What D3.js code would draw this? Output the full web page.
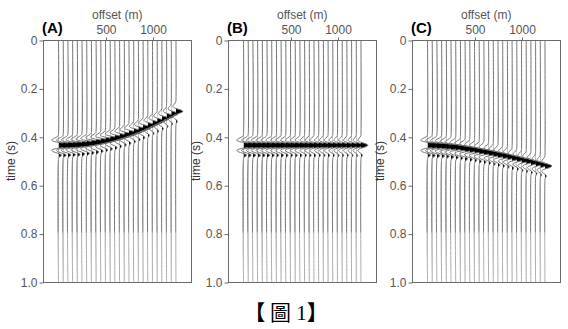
<!DOCTYPE html>
<html>
<head>
<meta charset="utf-8">
<script src="https://cdn.jsdelivr.net/npm/d3@7"></script>
<style>
  html, body { margin: 0; padding: 0; background: #fff; }
  svg { display: block; }
</style>
</head>
<body>
<svg id="chart" width="568" height="329"></svg>
<script>
// ---------- data ----------
const offsets = [0,50,100,150,200,250,300,350,400,450,500,550,600,650,700,750,800,850,900,950,1000,1050,1100,1150,1200,1250];
const arrivalA = [0.435,0.435,0.434,0.433,0.432,0.430,0.428,0.425,0.422,0.418,0.414,0.409,0.404,0.398,0.392,0.385,0.378,0.370,0.362,0.353,0.344,0.335,0.325,0.315,0.305,0.295];
const arrivalB = [0.435,0.435,0.435,0.435,0.435,0.435,0.435,0.435,0.435,0.435,0.435,0.435,0.435,0.435,0.435,0.435,0.435,0.435,0.435,0.435,0.435,0.435,0.435,0.435,0.435,0.435];
const arrivalC = [0.435,0.436,0.437,0.438,0.440,0.442,0.444,0.447,0.450,0.453,0.456,0.460,0.463,0.467,0.471,0.475,0.479,0.483,0.488,0.492,0.497,0.501,0.506,0.511,0.516,0.521];
const traceAmp = [1.00,0.99,0.97,0.95,0.93,0.90,0.87,0.84,0.81,0.78,0.75,0.72,0.70,0.67,0.65,0.63,0.61,0.59,0.57,0.55,0.53,0.52,0.50,0.49,0.47,0.46];
const waveletLag = [-0.045,-0.040,-0.035,-0.030,-0.025,-0.020,-0.015,-0.010,-0.005,0,0.005,0.010,0.015,0.020,0.025,0.030,0.035,0.040,0.045,0.050,0.055];
const waveletAmp = [0,-0.02,-0.10,-0.25,-0.40,-0.45,-0.25,0.24,0.77,1,0.77,0.24,-0.25,-0.45,-0.40,-0.20,0.05,0.20,0.15,0.03,0];
const panelLabels = ["(A)","(B)","(C)"];
const yTicks = [0,0.2,0.4,0.6,0.8,1.0];
const yTickLabels = ["0","0.2","0.4","0.6","0.8","1.0"];
const xTicks = [500,1000];
const xTickLabels = ["500","1000"];
const xTitle = "offset (m)";
const yTitle = "time (s)";
const caption = ["【 ","圖 1","】"];

// ---------- layout ----------
const svg = d3.select("#chart");
const panelLeft = [43, 228, 412];
const panelW = 148, plotTop = 40, panelH = 242;
const gain = 15;
const axisColor = "#6a6a6a";
const textColor = "#555";
const font = "'Liberation Sans', Arial, sans-serif";
const arrivals = [arrivalA, arrivalB, arrivalC];

const y = d3.scaleLinear().domain([0, 1]).range([plotTop, plotTop + panelH]);

const defs = svg.append("defs");
const grad = defs.append("linearGradient").attr("id", "traceGrad")
  .attr("gradientUnits", "userSpaceOnUse")
  .attr("x1", 0).attr("x2", 0).attr("y1", y(0)).attr("y2", y(1));
grad.append("stop").attr("offset", 0).attr("stop-color", "#747474");
grad.append("stop").attr("offset", 0.79).attr("stop-color", "#747474");
grad.append("stop").attr("offset", 0.80).attr("stop-color", "#acacac");
grad.append("stop").attr("offset", 1).attr("stop-color", "#acacac");

panelLeft.forEach((left, p) => {
  const x = d3.scaleLinear().domain([-165, 1410]).range([left, left + panelW]);
  const g = svg.append("g");

  // traces
  offsets.forEach((off, i) => {
    const base = x(off);
    const t0 = arrivals[p][i];
    const amp = gain * traceAmp[i];
    const pts = [{t: 0, a: 0}]
      .concat(waveletLag.map((l, k) => ({t: t0 + l, a: waveletAmp[k]})))
      .concat([{t: 1, a: 0}]);
    const line = d3.line()
      .x(d => base + amp * d.a)
      .y(d => y(d.t))
      .curve(d3.curveCatmullRom.alpha(0.5));
    const area = d3.area()
      .x0(base)
      .x1(d => base + amp * d.a)
      .y(d => y(d.t))
      .curve(d3.curveCatmullRom.alpha(0.5));
    const cid = `clip-${p}-${i}`;
    defs.append("clipPath").attr("id", cid)
      .append("rect").attr("x", base).attr("y", plotTop).attr("width", 40).attr("height", panelH);
    g.append("path").attr("d", area(pts))
      .attr("fill", "#000").attr("clip-path", `url(#${cid})`);
    g.append("path").attr("d", line(pts))
      .attr("fill", "none").attr("stroke", "url(#traceGrad)").attr("stroke-width", 1);
  });

  // frame
  g.append("rect").attr("x", left + 0.5).attr("y", plotTop + 0.5)
    .attr("width", panelW).attr("height", panelH)
    .attr("fill", "none").attr("stroke", axisColor).attr("stroke-width", 1);

  // y axis
  const yAxis = d3.axisLeft(y).tickValues(yTicks).tickSize(4)
    .tickFormat((d, k) => yTickLabels[k]);
  const ya = g.append("g").attr("transform", `translate(${left + 0.5},0.5)`).call(yAxis);
  ya.select(".domain").remove();
  ya.selectAll("line").attr("stroke", axisColor);
  ya.selectAll("text").attr("fill", textColor).style("font-family", font).style("font-size", "12px").attr("dx", "1");

  // x axis (top)
  const xAxis = d3.axisTop(x).tickValues(xTicks).tickSize(3)
    .tickFormat((d, k) => xTickLabels[k]);
  const xa = g.append("g").attr("transform", `translate(0.5,${plotTop + 0.5})`).call(xAxis);
  xa.select(".domain").remove();
  xa.selectAll("line").attr("stroke", axisColor);
  xa.selectAll("text").attr("fill", textColor).style("font-family", font).style("font-size", "12px").attr("dy", "-1");

  // titles
  g.append("text").attr("x", x(625)).attr("y", 19).attr("text-anchor", "middle")
    .attr("fill", textColor).style("font-family", font).style("font-size", "12px").text(xTitle);
  g.append("text").attr("transform", `translate(${left - 28},${plotTop + panelH / 2}) rotate(-90)`)
    .attr("text-anchor", "middle").attr("fill", "#333")
    .style("font-family", font).style("font-size", "12px").text(yTitle);
  g.append("text").attr("x", left - 1).attr("y", 33)
    .attr("fill", "#000").style("font-family", font).style("font-size", "15px").style("font-weight", "bold")
    .text(panelLabels[p]);
});

// caption
const cap = svg.append("text").attr("x", 286).attr("y", 320).attr("text-anchor", "middle")
  .style("font-size", "21px").attr("fill", "#000");
cap.append("tspan").style("font-family", "'Noto Sans CJK TC'").style("font-weight", "bold").text(caption[0]);
cap.append("tspan").style("font-family", "'Liberation Serif', 'Noto Sans CJK TC'").text(caption[1]);
cap.append("tspan").style("font-family", "'Noto Sans CJK TC'").style("font-weight", "bold").text(caption[2]);
</script>
</body>
</html>
